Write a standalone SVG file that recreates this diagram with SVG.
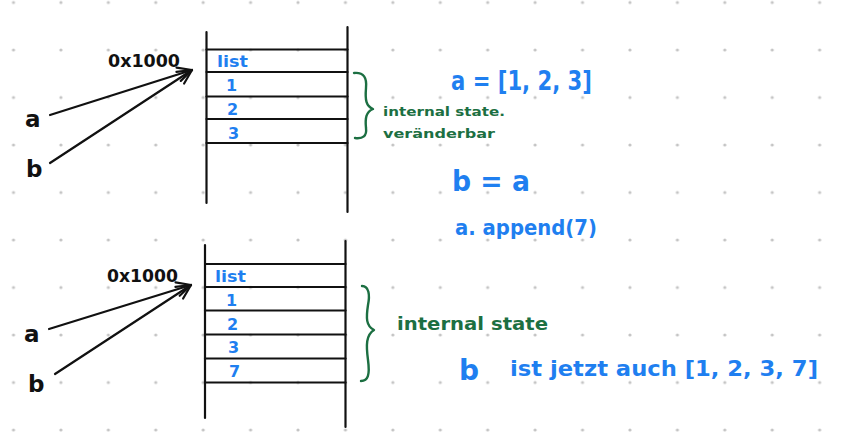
<svg xmlns="http://www.w3.org/2000/svg" width="850" height="436" viewBox="0 0 850 436">
<defs>
<style>
.ink{stroke:#111;stroke-width:2.2;fill:none;stroke-linecap:round}
.blk{font-family:"DejaVu Sans","Liberation Sans",sans-serif;fill:#111;font-weight:bold}
.blu{font-family:"DejaVu Sans","Liberation Sans",sans-serif;fill:#1f7ff0;font-weight:bold}
.grn{font-family:"DejaVu Sans","Liberation Sans",sans-serif;fill:#1c6f42;font-weight:bold}
.brace{stroke:#1c6f42;stroke-width:2.4;fill:none;stroke-linecap:round;stroke-linejoin:round}
</style>
<pattern id="dots" x="13.5" y="2.5" width="47.42" height="47.5" patternUnits="userSpaceOnUse">
<circle cx="0" cy="0" r="1.6" fill="#c4c4c4"/>
<circle cx="47.42" cy="0" r="1.6" fill="#c4c4c4"/>
<circle cx="0" cy="47.5" r="1.6" fill="#c4c4c4"/>
<circle cx="47.42" cy="47.5" r="1.6" fill="#c4c4c4"/>
</pattern>
<marker id="arr" markerUnits="userSpaceOnUse" markerWidth="24" markerHeight="24" refX="20" refY="12" orient="auto" viewBox="0 0 24 24">
<path d="M6 5 L20 12 L6 19" fill="none" stroke="#111" stroke-width="2.2" stroke-linecap="round" stroke-linejoin="round"/>
</marker>
</defs>
<rect width="850" height="436" fill="#fff"/>
<rect width="850" height="436" fill="url(#dots)"/>

<g id="memory-top">
<line class="ink" x1="206.5" y1="32" x2="206.5" y2="203"/>
<line class="ink" x1="347.5" y1="27" x2="347.5" y2="212"/>
<line class="ink" x1="206.5" y1="49.5" x2="347.5" y2="49.5"/>
<line class="ink" x1="206.5" y1="72" x2="347.5" y2="72"/>
<line class="ink" x1="206.5" y1="96.5" x2="347.5" y2="96.5"/>
<line class="ink" x1="206.5" y1="119" x2="347.5" y2="119"/>
<line class="ink" x1="206.5" y1="143" x2="347.5" y2="143"/>
<text class="blu" x="217" y="67" font-size="15" textLength="31" lengthAdjust="spacingAndGlyphs">list</text>
<text class="blu" x="226" y="91" font-size="16">1</text>
<text class="blu" x="227" y="115" font-size="16">2</text>
<text class="blu" x="228" y="139" font-size="16">3</text>
</g>

<g id="memory-bottom">
<line class="ink" x1="205" y1="245" x2="205" y2="418"/>
<line class="ink" x1="345.5" y1="241" x2="345.5" y2="427"/>
<line class="ink" x1="205" y1="264" x2="345.5" y2="264"/>
<line class="ink" x1="205" y1="287" x2="345.5" y2="287"/>
<line class="ink" x1="205" y1="310.5" x2="345.5" y2="310.5"/>
<line class="ink" x1="205" y1="334.5" x2="345.5" y2="334.5"/>
<line class="ink" x1="205" y1="358.5" x2="345.5" y2="358.5"/>
<line class="ink" x1="205" y1="382.5" x2="345.5" y2="382.5"/>
<text class="blu" x="215" y="282" font-size="15" textLength="31" lengthAdjust="spacingAndGlyphs">list</text>
<text class="blu" x="226" y="306" font-size="16">1</text>
<text class="blu" x="227" y="330" font-size="16">2</text>
<text class="blu" x="228" y="353" font-size="16">3</text>
<text class="blu" x="229" y="377" font-size="16">7</text>
</g>

<g id="address-top"><text class="blk" x="108" y="67" font-size="17" textLength="72" lengthAdjust="spacingAndGlyphs">0x1000</text></g>
<g id="address-bottom"><text class="blk" x="107" y="282" font-size="17" textLength="71" lengthAdjust="spacingAndGlyphs">0x1000</text></g>

<g id="var-a-top"><text class="blk" x="25" y="127" font-size="23">a</text></g>
<g id="var-b-top"><text class="blk" x="26" y="177" font-size="23">b</text></g>
<g id="var-a-bottom"><text class="blk" x="24" y="342" font-size="23">a</text></g>
<g id="var-b-bottom"><text class="blk" x="28" y="392" font-size="23">b</text></g>

<g id="connectors">
<line class="ink" x1="50" y1="115" x2="192" y2="70" marker-end="url(#arr)"/>
<line class="ink" x1="50" y1="163" x2="192" y2="70" marker-end="url(#arr)"/>
<line class="ink" x1="49" y1="329" x2="191" y2="285" marker-end="url(#arr)"/>
<line class="ink" x1="55" y1="374" x2="191" y2="285" marker-end="url(#arr)"/>
</g>

<g id="brace-top">
<path class="brace" d="M354 73 C364 72 367 78 366 88 C365 100 366 106 373 109 C366 112 365 118 366 128 C367 136 363 139 355 138"/>
<text class="grn" x="383" y="116" font-size="12" textLength="122" lengthAdjust="spacingAndGlyphs">internal state.</text>
<text class="grn" x="383" y="138" font-size="12" textLength="112" lengthAdjust="spacingAndGlyphs">veränderbar</text>
</g>

<g id="brace-bottom">
<path class="brace" d="M362 286 C369 286 370 295 368 305 C366 318 366 326 374 330 C366 335 366 345 368 360 C370 375 368 381 361 381"/>
<text class="grn" x="397" y="330" font-size="17" textLength="151" lengthAdjust="spacingAndGlyphs">internal state</text>
</g>

<g id="code">
<text class="blu" x="451" y="90" font-size="27" textLength="141" lengthAdjust="spacingAndGlyphs">a = [1, 2, 3]</text>
<text class="blu" x="452" y="191" font-size="28" textLength="78" lengthAdjust="spacingAndGlyphs">b = a</text>
<text class="blu" x="455" y="235" font-size="22" textLength="142" lengthAdjust="spacingAndGlyphs">a. append(7)</text>
<text class="blu" x="459" y="380" font-size="28">b</text>
<text class="blu" x="510" y="376" font-size="21" textLength="308" lengthAdjust="spacingAndGlyphs">ist jetzt auch [1, 2, 3, 7]</text>
</g>
</svg>
